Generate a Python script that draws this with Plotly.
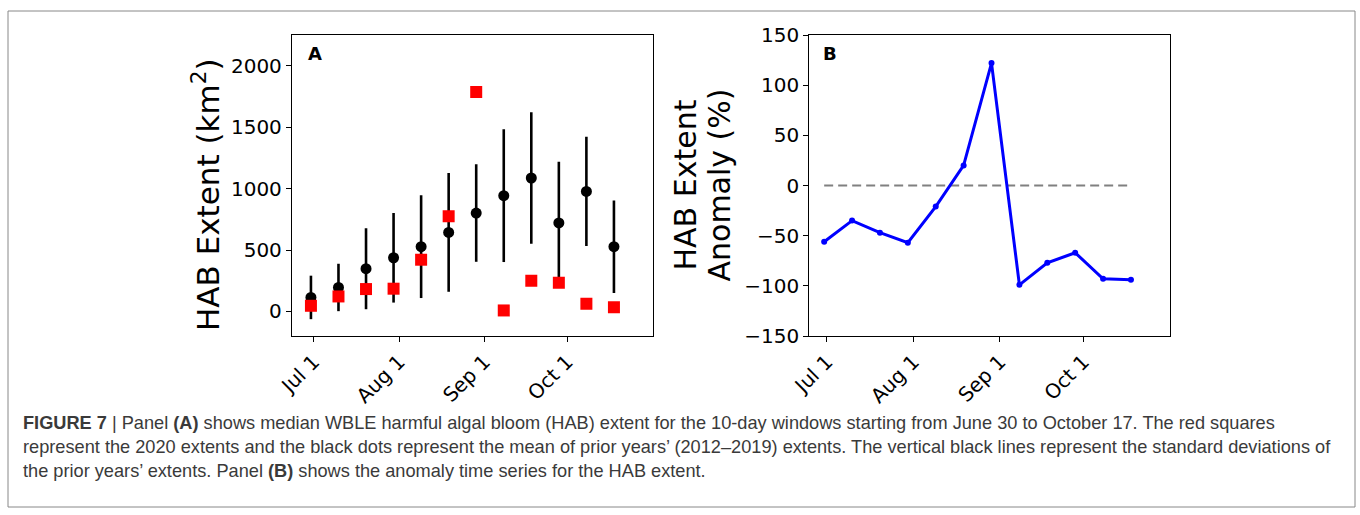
import plotly.graph_objects as go

# ---------------- data ----------------
window_start = ["2020-06-30", "2020-07-10", "2020-07-20", "2020-07-30", "2020-08-09", "2020-08-19",
                "2020-08-29", "2020-09-08", "2020-09-18", "2020-09-28", "2020-10-08", "2020-10-18"]
prior_mean = [114, 195, 348, 437, 527, 643, 801, 942, 1086, 720, 977, 527]
prior_std = [177, 193, 330, 365, 418, 483, 397, 540, 536, 498, 444, 376]
extent_2020 = [46, 122, 182, 185, 421, 774, 1787, 8, 250, 234, 63, 33]
anomaly_pct = [-56, -35, -47, -57, -21, 20, 122, -99, -77, -67, -93, -94]
month_ticks = ["2020-07-01", "2020-08-01", "2020-09-01", "2020-10-01"]
month_labels = ["Jul 1", "Aug 1", "Sep 1", "Oct 1"]
extent_ticks = [0, 500, 1000, 1500, 2000]
anomaly_ticks = [-150, -100, -50, 0, 50, 100, 150]

W, H = 1360, 515


def px_x(p):
    return p / W


def px_y(p):
    return 1 - p / H


fig = go.Figure()

# Panel A
fig.add_trace(go.Scatter(
    x=window_start, y=prior_mean, mode="markers",
    marker=dict(symbol="circle", size=11, color="black"),
    error_y=dict(type="data", array=prior_std, visible=True, thickness=2.6, width=0, color="black"),
    xaxis="x", yaxis="y", showlegend=False))
fig.add_trace(go.Scatter(
    x=window_start, y=extent_2020, mode="markers",
    marker=dict(symbol="square", size=12, color="#ff0000"),
    xaxis="x", yaxis="y", showlegend=False))

# Panel B
fig.add_trace(go.Scatter(
    x=[window_start[0], window_start[-1]], y=[0, 0], mode="lines",
    line=dict(color="#808080", width=2, dash="9px,5px"),
    xaxis="x2", yaxis="y2", showlegend=False))
fig.add_trace(go.Scatter(
    x=window_start, y=anomaly_pct, mode="lines+markers",
    line=dict(color="#0000ff", width=3),
    marker=dict(size=6, color="#0000ff"),
    xaxis="x2", yaxis="y2", showlegend=False))

axis_common = dict(showline=True, linecolor="black", linewidth=1.3, mirror=True,
                   ticks="outside", ticklen=5, tickwidth=1.3, tickcolor="black",
                   showgrid=False, zeroline=False,
                   tickfont=dict(family="DejaVu Sans", size=20, color="black"))

fig.update_layout(
    width=W, height=H,
    margin=dict(l=0, r=0, t=0, b=0, pad=0, autoexpand=False),
    paper_bgcolor="white", plot_bgcolor="white",
    xaxis=dict(domain=[px_x(292), px_x(652.5)], type="date",
               range=["2020-06-23 03:00", "2020-11-01"],
               tickmode="array", tickvals=month_ticks, ticktext=month_labels,
               tickangle=-45, anchor="y", automargin=False, **axis_common),
    yaxis=dict(domain=[px_y(336), px_y(35)], range=[-200, 2250],
               tickmode="array", tickvals=extent_ticks, anchor="x", automargin=False, **axis_common),
    xaxis2=dict(domain=[px_x(809.3), px_x(1170)], type="date",
                range=["2020-06-24 16:00", "2020-11-01"],
                tickmode="array", tickvals=month_ticks, ticktext=month_labels,
                tickangle=-45, anchor="y2", automargin=False, **axis_common),
    yaxis2=dict(domain=[px_y(336), px_y(35)], range=[-150, 150],
                tickmode="array", tickvals=anomaly_ticks, anchor="x2", automargin=False, **axis_common),
)

cap_font = dict(family="Liberation Sans", size=18.2, color="#3a3a3a")
annotations = [
    dict(text="<b>A</b>", x=px_x(306), y=px_y(54), xanchor="left", yanchor="middle",
         font=dict(family="DejaVu Sans", size=18, color="black")),
    dict(text="<b>B</b>", x=px_x(821), y=px_y(53), xanchor="left", yanchor="middle",
         font=dict(family="DejaVu Sans", size=18, color="black")),
    dict(text="HAB Extent (km<sup>2</sup>)", textangle=-90, x=px_x(206), y=px_y(194),
         xanchor="center", yanchor="middle",
         font=dict(family="DejaVu Sans", size=31, color="black")),
    dict(text="HAB Extent", textangle=-90, x=px_x(685), y=px_y(185.5),
         xanchor="center", yanchor="middle",
         font=dict(family="DejaVu Sans", size=30, color="black")),
    dict(text="Anomaly (%)", textangle=-90, x=px_x(719), y=px_y(185.5),
         xanchor="center", yanchor="middle",
         font=dict(family="DejaVu Sans", size=30, color="black")),
    dict(text="<b>FIGURE 7</b> | Panel <b>(A)</b> shows median WBLE harmful algal bloom (HAB) extent for the 10-day windows starting from June 30 to October 17. The red squares",
         x=px_x(21), y=px_y(423), xanchor="left", yanchor="middle", font=cap_font),
    dict(text="represent the 2020 extents and the black dots represent the mean of prior years\u2019 (2012\u20132019) extents. The vertical black lines represent the standard deviations of",
         x=px_x(21), y=px_y(447), xanchor="left", yanchor="middle", font=cap_font),
    dict(text="the prior years\u2019 extents. Panel <b>(B)</b> shows the anomaly time series for the HAB extent.",
         x=px_x(21), y=px_y(471), xanchor="left", yanchor="middle", font=cap_font),
]
for a in annotations:
    a.update(xref="paper", yref="paper", showarrow=False)
fig.update_layout(annotations=annotations)

fig.add_shape(type="rect", xref="paper", yref="paper",
              x0=px_x(8), x1=px_x(1355), y0=px_y(507), y1=px_y(11),
              line=dict(color="#888888", width=1), fillcolor="rgba(0,0,0,0)", layer="below")

fig.write_html("out.html")
